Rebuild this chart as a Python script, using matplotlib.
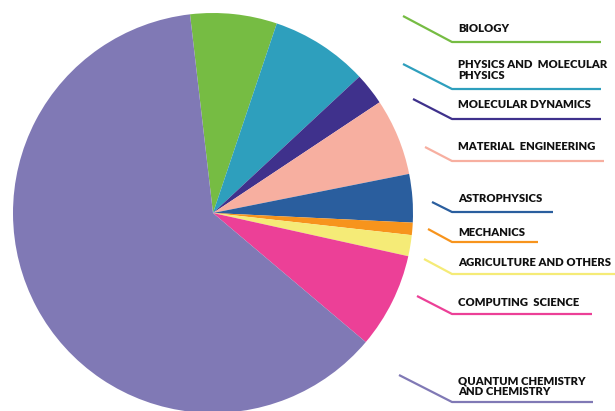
import matplotlib
matplotlib.use("Agg")
from matplotlib import pyplot as plt

# shares of compute time by field (percent)
fields = ["BIOLOGY", "PHYSICS AND  MOLECULAR\nPHYSICS", "MOLECULAR DYNAMICS",
          "MATERIAL  ENGINEERING", "ASTROPHYSICS", "MECHANICS",
          "AGRICULTURE AND OTHERS", "COMPUTING  SCIENCE",
          "QUANTUM CHEMISTRY\nAND CHEMISTRY"]
shares = [7.0, 7.9, 2.6, 6.2, 3.9, 1.0, 1.7, 7.7, 62.0]
colors = ["#76bc43", "#2e9fbd", "#3f318c", "#f7afa0", "#2a5e9e",
          "#f7941d", "#f5eb77", "#ec4097", "#8079b5"]

# label layout (image pixel rows): leader start x, start y, elbow y, end x, text y
lead_x0 = [403, 403, 413, 425, 432, 428, 424, 417, 399]
lead_y0 = [16, 64, 99, 147, 202, 229, 259, 296, 375]
lead_y1 = [42, 89, 119, 161, 212, 242, 274, 314, 402]
lead_x1 = [601, 601, 601, 604, 553, 538, 615, 592, 593]
text_y = [29, 70, 105, 147, 199, 232, 263, 302, 386]

W, H = 615, 411
fig = plt.figure(figsize=(W / 100, H / 100), dpi=100)
ax = fig.add_axes([0, 0, 1, 1])

ax.pie(shares, colors=colors, startangle=96.6, counterclock=False,
       center=(213, H - 213), radius=200,
       wedgeprops=dict(linewidth=0, antialiased=True))
ax.set_xlim(0, W)
ax.set_ylim(0, H)
ax.set_aspect("equal")
ax.axis("off")

for i, name in enumerate(fields):
    ax.plot([lead_x0[i], 452, lead_x1[i]],
            [H - lead_y0[i], H - lead_y1[i], H - lead_y1[i]],
            color=colors[i], lw=1.6, solid_capstyle="butt", clip_on=False)
    ax.text(458, H - text_y[i], name, fontsize=8.1, fontweight="heavy",
            family=["Lato", "DejaVu Sans"], color="#111111",
            va="center", ha="left", linespacing=0.95)

fig.savefig("out.png", dpi=100)
